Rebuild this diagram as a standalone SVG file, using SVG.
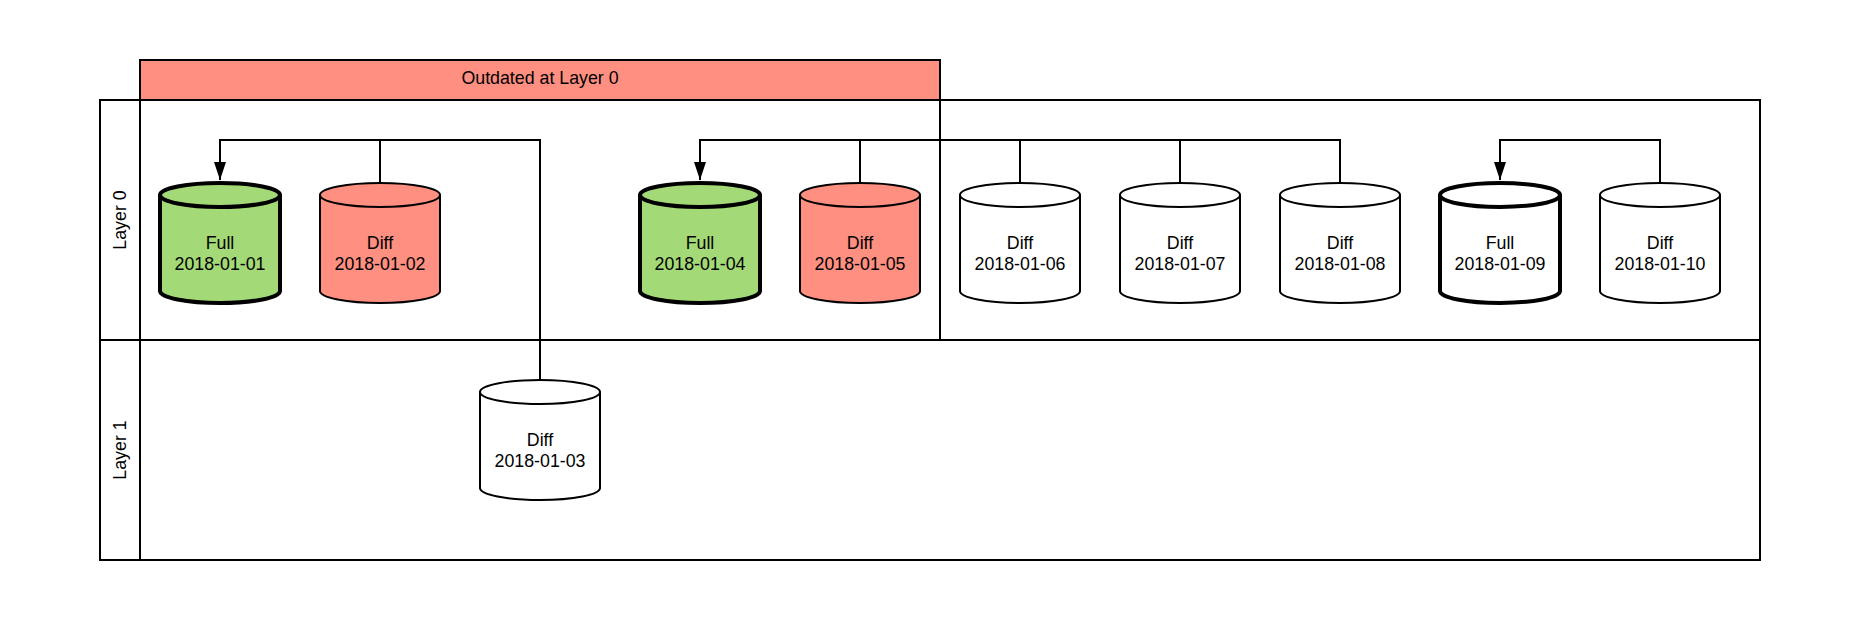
<svg xmlns="http://www.w3.org/2000/svg" width="1869" height="624" viewBox="0 0 1869 624">
  <style>
    .ln { fill: none; stroke: #000; stroke-width: 2; }
    .cyl { stroke: #000; stroke-width: 2; stroke-linejoin: round; }
    .rim { fill: none; stroke: #000; stroke-width: 2; }
    .bold { stroke-width: 4; }
    .white { fill: #FFFFFF; }
    .green { fill: #A3D977; }
    .red { fill: #FF8F80; }
    .t { font-family: "Liberation Sans", Arial, sans-serif; font-size: 17.8px; fill: #000; text-anchor: middle; }
    .conn { fill: none; stroke: #000; stroke-width: 2; }
  </style>
  <defs>
    <marker id="arrow" viewBox="0 0 18 12" refX="18" refY="6" markerWidth="18" markerHeight="12" markerUnits="userSpaceOnUse" orient="auto">
      <path d="M0,0 L18,6 L0,12 Z" fill="#000"/>
    </marker>
  </defs>
  <rect width="1869" height="624" fill="#FFFFFF"/>

  <g id="pool">
    <rect class="ln" x="100" y="100" width="1660" height="460"/>
    <line class="ln" x1="140" y1="100" x2="140" y2="560"/>
    <line class="ln" x1="100" y1="340" x2="1760" y2="340"/>
    <text class="t" transform="translate(126,220) rotate(-90)">Layer 0</text>
    <text class="t" transform="translate(126,450) rotate(-90)">Layer 1</text>
  </g>

  <g id="outdated">
    <rect x="140" y="60" width="800" height="40" fill="#FF8F80" stroke="#000" stroke-width="2"/>
    <rect class="ln" x="140" y="60" width="800" height="280"/>
    <text class="t" x="540" y="84">Outdated at Layer 0</text>
  </g>

  <g id="connectors">
    <polyline class="conn" points="380,183 380,140 220,140 220,180" marker-end="url(#arrow)"/>
    <polyline class="conn" points="540,380 540,140 220,140"/>
    <polyline class="conn" points="860,183 860,140 700,140 700,180" marker-end="url(#arrow)"/>
    <polyline class="conn" points="1020,183 1020,140 860,140"/>
    <polyline class="conn" points="1180,183 1180,140 1020,140"/>
    <polyline class="conn" points="1340,183 1340,140 1180,140"/>
    <polyline class="conn" points="1660,183 1660,140 1500,140 1500,180" marker-end="url(#arrow)"/>
  </g>

  <g id="full-2018-01-01">
    <path class="cyl bold green" d="M160,195 A60,12 0 0 1 280,195 L280,291 A60,12 0 0 1 160,291 Z"/>
    <path class="rim bold" d="M160,195 A60,12 0 0 0 280,195"/>
    <text class="t" x="220" y="249">Full</text>
    <text class="t" x="220" y="270">2018-01-01</text>
  </g>
  <g id="diff-2018-01-02">
    <path class="cyl red" d="M320,195 A60,12 0 0 1 440,195 L440,291 A60,12 0 0 1 320,291 Z"/>
    <path class="rim" d="M320,195 A60,12 0 0 0 440,195"/>
    <text class="t" x="380" y="249">Diff</text>
    <text class="t" x="380" y="270">2018-01-02</text>
  </g>
  <g id="diff-2018-01-03">
    <path class="cyl white" d="M480,392 A60,12 0 0 1 600,392 L600,488 A60,12 0 0 1 480,488 Z"/>
    <path class="rim" d="M480,392 A60,12 0 0 0 600,392"/>
    <text class="t" x="540" y="446">Diff</text>
    <text class="t" x="540" y="467">2018-01-03</text>
  </g>
  <g id="full-2018-01-04">
    <path class="cyl bold green" d="M640,195 A60,12 0 0 1 760,195 L760,291 A60,12 0 0 1 640,291 Z"/>
    <path class="rim bold" d="M640,195 A60,12 0 0 0 760,195"/>
    <text class="t" x="700" y="249">Full</text>
    <text class="t" x="700" y="270">2018-01-04</text>
  </g>
  <g id="diff-2018-01-05">
    <path class="cyl red" d="M800,195 A60,12 0 0 1 920,195 L920,291 A60,12 0 0 1 800,291 Z"/>
    <path class="rim" d="M800,195 A60,12 0 0 0 920,195"/>
    <text class="t" x="860" y="249">Diff</text>
    <text class="t" x="860" y="270">2018-01-05</text>
  </g>
  <g id="diff-2018-01-06">
    <path class="cyl white" d="M960,195 A60,12 0 0 1 1080,195 L1080,291 A60,12 0 0 1 960,291 Z"/>
    <path class="rim" d="M960,195 A60,12 0 0 0 1080,195"/>
    <text class="t" x="1020" y="249">Diff</text>
    <text class="t" x="1020" y="270">2018-01-06</text>
  </g>
  <g id="diff-2018-01-07">
    <path class="cyl white" d="M1120,195 A60,12 0 0 1 1240,195 L1240,291 A60,12 0 0 1 1120,291 Z"/>
    <path class="rim" d="M1120,195 A60,12 0 0 0 1240,195"/>
    <text class="t" x="1180" y="249">Diff</text>
    <text class="t" x="1180" y="270">2018-01-07</text>
  </g>
  <g id="diff-2018-01-08">
    <path class="cyl white" d="M1280,195 A60,12 0 0 1 1400,195 L1400,291 A60,12 0 0 1 1280,291 Z"/>
    <path class="rim" d="M1280,195 A60,12 0 0 0 1400,195"/>
    <text class="t" x="1340" y="249">Diff</text>
    <text class="t" x="1340" y="270">2018-01-08</text>
  </g>
  <g id="full-2018-01-09">
    <path class="cyl bold white" d="M1440,195 A60,12 0 0 1 1560,195 L1560,291 A60,12 0 0 1 1440,291 Z"/>
    <path class="rim bold" d="M1440,195 A60,12 0 0 0 1560,195"/>
    <text class="t" x="1500" y="249">Full</text>
    <text class="t" x="1500" y="270">2018-01-09</text>
  </g>
  <g id="diff-2018-01-10">
    <path class="cyl white" d="M1600,195 A60,12 0 0 1 1720,195 L1720,291 A60,12 0 0 1 1600,291 Z"/>
    <path class="rim" d="M1600,195 A60,12 0 0 0 1720,195"/>
    <text class="t" x="1660" y="249">Diff</text>
    <text class="t" x="1660" y="270">2018-01-10</text>
  </g>
</svg>
